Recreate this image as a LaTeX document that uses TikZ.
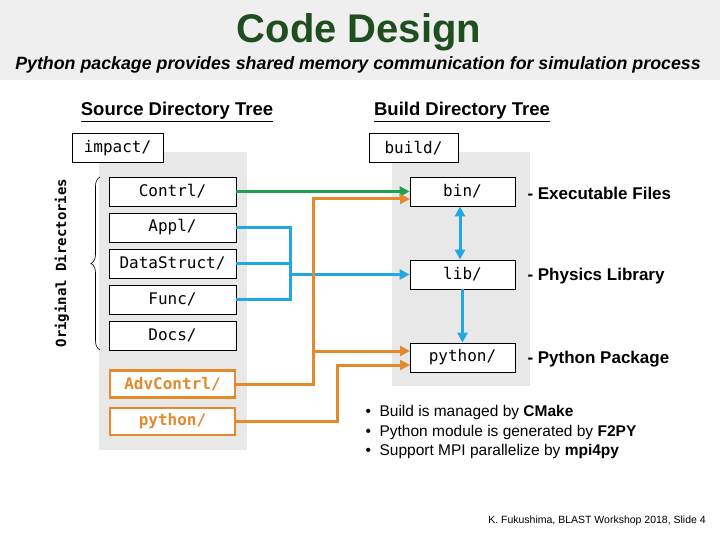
\documentclass[tikz,border=0pt]{standalone}
\usepackage{fontspec}
\setmainfont{Liberation Sans}
\newfontfamily\monof{DejaVu Sans Mono}
\usetikzlibrary{arrows.meta,decorations.pathreplacing}
\definecolor{cgreen}{HTML}{1FA050}
\definecolor{cblue}{HTML}{22A8E0}
\definecolor{corange}{HTML}{E38A2C}
\definecolor{panel}{HTML}{E8E8E8}
\definecolor{head}{HTML}{EFEFEF}
\definecolor{titlec}{HTML}{1F4E1F}
\begin{document}
\begin{tikzpicture}[x=1pt,y=-1pt,
  dir/.style={draw=black,fill=white,line width=0.8pt,minimum height=29pt,font=\monof\fontsize{16}{17}\selectfont,inner sep=0pt},
  odir/.style={dir,draw=corange,line width=2.6pt,text=corange,font=\monof\bfseries\fontsize{16}{17}\selectfont},
  lbl/.style={anchor=west,font=\bfseries\fontsize{17}{19}\selectfont},
  con/.style={line width=3pt,-{Triangle[length=10pt,width=10pt]}}]
\useasboundingbox (0,0) rectangle (720,540);
\fill[white] (0,0) rectangle (720,540);
\fill[head] (0,0) rectangle (720,80);
\node (title) at (359,32) {\fontsize{40}{42}\selectfont\bfseries\color{titlec}Code Design};
\node (sub) at (358,65) {\fontsize{17.8}{19}\selectfont\bfseries\itshape Python package provides shared memory communication for simulation process};
\node (st) at (177,112) {\fontsize{18.5}{20}\selectfont\bfseries\underline{Source Directory Tree}};
\node (bt) at (462,112) {\fontsize{18.5}{20}\selectfont\bfseries\underline{Build Directory Tree}};
\fill[panel] (99,152) rectangle (247,450);
\fill[panel] (392,152) rectangle (530,386);
\node[dir,minimum width=91pt] (impact) at (117.5,148) {impact/};
\node[dir,minimum width=89pt] (build) at (413.5,148) {build/};
\node[dir,minimum width=127pt] (contrl) at (172.5,191.5) {Contrl/};
\node[dir,minimum width=127pt] (appl) at (172.5,227.5) {Appl/};
\node[dir,minimum width=127pt] (data) at (172.5,263.5) {DataStruct/};
\node[dir,minimum width=127pt] (func) at (172.5,299.5) {Func/};
\node[dir,minimum width=127pt] (docs) at (172.5,335.5) {Docs/};
\node[odir,minimum width=125pt,minimum height=27pt] (adv) at (172.5,384) {AdvContrl/};
\node[odir,minimum width=125pt,minimum height=27pt] (py) at (172.5,421.5) {python/};
\node[dir,minimum width=105pt] (bin) at (462.5,191.5) {bin/};
\node[dir,minimum width=105pt] (lib) at (462.5,274.5) {lib/};
\node[dir,minimum width=105pt] (bpy) at (462.5,357.5) {python/};
\node[lbl] (l1) at (524,193) {- Executable Files};
\node[lbl] (l2) at (524,276) {- Physics Library};
\node[lbl] (l3) at (524,359) {- Python Package};
\node[rotate=90,font=\monof\bfseries\fontsize{14}{16}\selectfont] (orig) at (62,263) {Original Directories};
\draw[line width=0.6pt,decorate,decoration={brace,amplitude=9pt}] (100,350) -- (100,177);
% green
\draw[con,cgreen] (contrl.east) -- (contrl.east -| bin.west);
% blue
\draw[line width=3pt,cblue] (appl.east) -- (290,227.5) -- (290,299.5) -- (func.east);
\draw[line width=3pt,cblue] (data.east) -- (290,263.5);
\draw[con,cblue] (290,274.5) -- (lib.west);
\draw[line width=3pt,cblue,{Triangle[length=10pt,width=10pt]}-{Triangle[length=10pt,width=10pt]}] (bin.south -| 460,0) -- (lib.north -| 460,0);
\draw[con,cblue] (lib.south) -- (bpy.north);
% orange
\coordinate (o1) at (313,384);
\draw[con,corange] (adv.east) -- (o1) -- (313,199) -- (410,199);
\draw[con,corange] (313,351) -- (410,351);
\draw[con,corange] (py.east) -- (337,421.5) -- (337,365) -- (410,365);
\node[anchor=north west,align=left,font=\fontsize{15.5}{19.5}\selectfont] (bul) at (362,402) {%
\textbullet\ \ Build is managed by \textbf{CMake}\\
\textbullet\ \ Python module is generated by \textbf{F2PY}\\
\textbullet\ \ Support MPI parallelize by \textbf{mpi4py}};
\node[font=\fontsize{10.5}{12}\selectfont] (foot) at (597,521) {K. Fukushima, BLAST Workshop 2018, Slide 4};
\end{tikzpicture}
\end{document}
